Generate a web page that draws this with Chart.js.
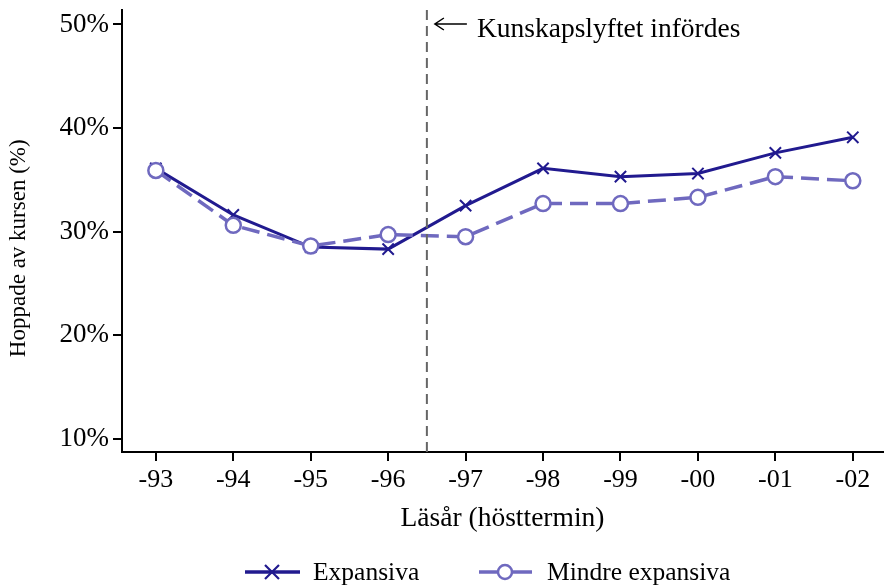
<!DOCTYPE html>
<html>
<head>
<meta charset="utf-8">
<script src="https://cdn.jsdelivr.net/npm/chart.js@4/dist/chart.umd.min.js"></script>
<style>
  html, body { margin: 0; padding: 0; background: #fff; }
  #wrap { width: 893px; height: 587px; }
</style>
</head>
<body>
<div id="wrap"><canvas id="chart" width="893" height="587"></canvas></div>
<script>
// Data
const years = ["-93", "-94", "-95", "-96", "-97", "-98", "-99", "-00", "-01", "-02"];
const expansiva = [36.1, 31.6, 28.5, 28.3, 32.5, 36.1, 35.3, 35.6, 37.6, 39.1];
const mindre = [35.9, 30.6, 28.6, 29.7, 29.5, 32.7, 32.7, 33.3, 35.3, 34.9];
const yTicks = [10, 20, 30, 40, 50];
const reformAt = 3.5; // between -96 and -97
const reformLabel = "Kunskapslyftet infördes";
const legendLabels = ["Expansiva", "Mindre expansiva"];

const C_EXP = "#211a8f";
const C_MIN = "#6f69bf";
const FONT = "'Liberation Serif', 'Times New Roman', serif";

Chart.defaults.font.family = FONT;
Chart.defaults.font.size = 26;
Chart.defaults.color = "#000";

function drawCross(ctx, x, y, r) {
  ctx.beginPath();
  ctx.moveTo(x - r, y - r); ctx.lineTo(x + r, y + r);
  ctx.moveTo(x + r, y - r); ctx.lineTo(x - r, y + r);
  ctx.stroke();
}

// vertical reform line + arrow note, and the bottom legend
const extrasPlugin = {
  id: "extras",
  afterDatasetsDraw(chart) {
    const { ctx, chartArea, scales } = chart;
    const x = scales.x.getPixelForValue(reformAt);
    ctx.save();
    ctx.strokeStyle = "#666";
    ctx.lineWidth = 2;
    ctx.setLineDash([10, 6]);
    ctx.beginPath();
    ctx.moveTo(x, chartArea.top);
    ctx.lineTo(x, chartArea.bottom);
    ctx.stroke();
    ctx.setLineDash([]);
    const ay = chartArea.top + 14;
    ctx.strokeStyle = "#000";
    ctx.lineWidth = 1.5;
    ctx.beginPath();
    ctx.moveTo(x + 40, ay); ctx.lineTo(x + 8, ay);
    ctx.moveTo(x + 17, ay - 6); ctx.lineTo(x + 8, ay); ctx.lineTo(x + 17, ay + 6);
    ctx.stroke();
    ctx.fillStyle = "#000";
    ctx.font = "27.5px " + FONT;
    ctx.textBaseline = "middle";
    ctx.fillText(reformLabel, x + 50, ay + 6);
    ctx.restore();
  },
  afterDraw(chart) {
    const { ctx } = chart;
    const ly = 572;
    ctx.save();
    ctx.lineWidth = 3.5;
    // Expansiva
    ctx.strokeStyle = C_EXP;
    ctx.beginPath(); ctx.moveTo(245, ly); ctx.lineTo(300, ly); ctx.stroke();
    ctx.lineWidth = 2.2;
    drawCross(ctx, 272, ly, 7);
    // Mindre expansiva
    ctx.strokeStyle = C_MIN;
    ctx.lineWidth = 3.5;
    ctx.beginPath(); ctx.moveTo(479, ly); ctx.lineTo(532, ly); ctx.stroke();
    ctx.lineWidth = 2.5;
    ctx.fillStyle = "#fff";
    ctx.beginPath(); ctx.arc(505, ly, 7, 0, Math.PI * 2); ctx.fill(); ctx.stroke();
    ctx.fillStyle = "#000";
    ctx.font = "25.5px " + FONT;
    ctx.textBaseline = "middle";
    ctx.fillText(legendLabels[0], 313, ly + 1);
    ctx.fillText(legendLabels[1], 547, ly + 1);
    ctx.restore();
  }
};

new Chart(document.getElementById("chart"), {
  type: "line",
  data: {
    datasets: [
      {
        label: legendLabels[0],
        data: expansiva.map((v, i) => ({ x: i, y: v })),
        borderColor: C_EXP,
        backgroundColor: C_EXP,
        borderWidth: 3,
        pointStyle: "crossRot",
        pointRadius: 8,
        pointBorderWidth: 2,
        pointHoverRadius: 8,
        tension: 0,
        order: 1,
      },
      {
        label: legendLabels[1],
        data: mindre.map((v, i) => ({ x: i, y: v })),
        borderColor: C_MIN,
        backgroundColor: "#fff",
        borderWidth: 3.5,
        borderDash: [18, 8],
        pointStyle: "circle",
        pointRadius: 7.5,
        pointBorderWidth: 2.5,
        pointHoverRadius: 7.5,
        tension: 0,
        order: 0,
      },
    ],
  },
  options: {
    responsive: false,
    animation: false,
    events: [],
    layout: { padding: { top: 8, right: 0, left: 5, bottom: 52 } },
    plugins: {
      tooltip: { enabled: false },
      legend: { display: false },
    },
    scales: {
      x: {
        type: "linear",
        min: -0.437,
        max: 9.39,
        afterBuildTicks: (s) => { s.ticks = years.map((_, i) => ({ value: i })); },
        afterFit: (s) => { s.height = 83; s.paddingRight = 0; },
        ticks: {
          callback: (v) => years[v] ?? "",
          padding: 4,
          font: { size: 26 },
          color: "#000",
          maxRotation: 0,
          autoSkip: false,
        },
        grid: { drawOnChartArea: false, drawTicks: true, tickLength: 9, color: "#000", lineWidth: 2 },
        border: { display: true, color: "#000", width: 2 },
        title: { display: true, text: "Läsår (hösttermin)", font: { size: 27.5 }, color: "#000", padding: { top: 4, bottom: 0 } },
      },
      y: {
        min: 8.7,
        max: 51.4,
        afterBuildTicks: (s) => { s.ticks = yTicks.map((v) => ({ value: v })); },
        afterFit: (s) => { s.width = 117; s.paddingTop = 0; s.paddingBottom = 0; },
        ticks: {
          callback: (v) => v + "%",
          padding: 4,
          font: { size: 27 },
          color: "#000",
        },
        grid: { drawOnChartArea: false, drawTicks: true, tickLength: 9, color: "#000", lineWidth: 2 },
        border: { display: true, color: "#000", width: 2 },
        title: { display: true, text: "Hoppade av kursen (%)" + "\u00a0".repeat(6), font: { size: 23 }, color: "#000", padding: { top: 0, bottom: 0 } },
      },
    },
  },
  plugins: [extrasPlugin],
});
</script>
</body>
</html>
